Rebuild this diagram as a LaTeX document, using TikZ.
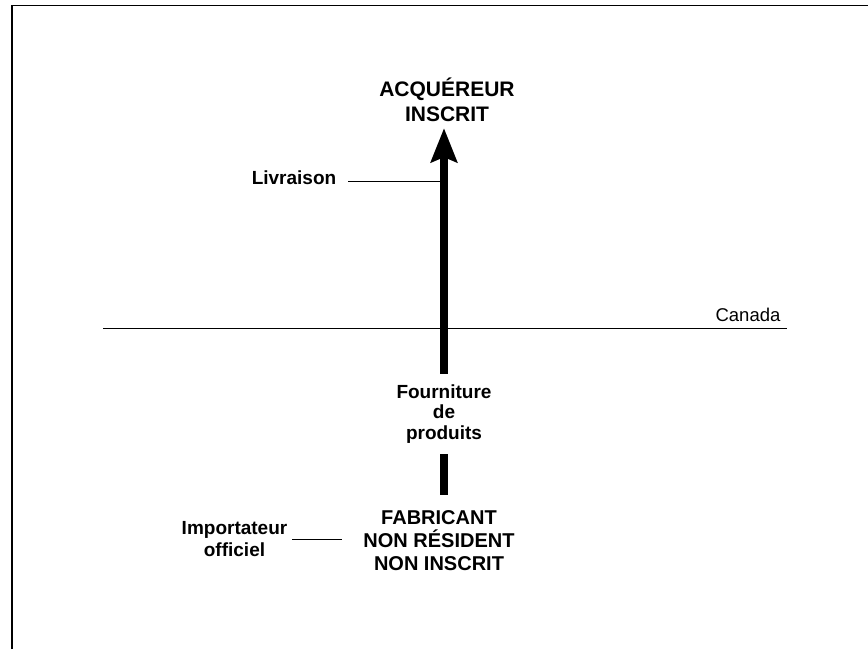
\documentclass[tikz,border=0pt]{standalone}
\usepackage{fontspec}
\setmainfont{Liberation Sans}
\usetikzlibrary{arrows.meta,calc}

\begin{document}
\begin{tikzpicture}[x=1pt,y=-1pt,
    party/.style={font=\fontsize{20}{23}\selectfont\bfseries, align=center, inner sep=0pt},
    buyer/.style={party, font=\fontsize{21}{25}\selectfont\bfseries},
    note/.style={font=\fontsize{19}{20.5}\selectfont\bfseries, align=center, inner sep=0pt},
    thinline/.style={line width=1pt},
    supply/.style={line width=8pt, -{Stealth[length=34pt,width=26pt,inset=5pt]}}]
\useasboundingbox (0,0) rectangle (868,649);
\draw[line width=1.5pt] (12,649) -- (12,5.5) -- (868,5.5);

\node[buyer] (acq) at (447,100) {ACQUÉREUR\\INSCRIT};
\node[party] (fab) at (439,541) {FABRICANT\\NON RÉSIDENT\\NON INSCRIT};
\node[note, anchor=base] (livr) at (294,184) {Livraison};
\node[note, font=\fontsize{19}{22}\selectfont\bfseries] (imp) at (234.5,539.5) {Importateur\\officiel};
\coordinate (shaft) at (444,0);

% frontiere
\coordinate (cw) at (103,328);
\coordinate (ce) at (787,328);
\draw[thinline] (cw) -- (ce);
\node[anchor=base, font=\fontsize{18.5}{20}\selectfont] (can) at (748,321) {Canada};

\draw[thinline] ($(livr.mid east)+(12,0)$) -- (livr.mid east -| shaft);
\draw[thinline] ($(imp.east)+(5,0)$) -- ($(imp.east -| fab.west)+(-21,0)$);

\draw[supply] ($(fab.north -| shaft)+(0,-16)$) -- ($(acq.south -| shaft)+(0,6)$);
\node[note, fill=white, inner ysep=11pt, inner xsep=2pt] (four) at (444,414) {Fourniture\\de\\produits};

\end{tikzpicture}
\end{document}
